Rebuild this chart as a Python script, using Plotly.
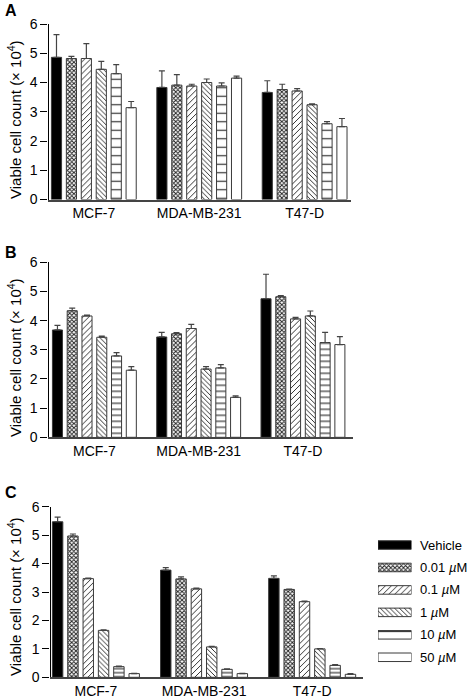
import plotly.graph_objects as go

# ---------------- data ----------------
CELL_LINES = ["MCF-7", "MDA-MB-231", "T47-D"]
TREATMENTS = ["Vehicle", "0.01 <i>µ</i>M", "0.1 <i>µ</i>M", "1 <i>µ</i>M", "10 <i>µ</i>M", "50 <i>µ</i>M"]
Y_TICKS = [0, 1, 2, 3, 4, 5, 6]
Y_TITLE = "Viable cell count (× 10<sup>4</sup>)"
PANEL_LABELS = ["A", "B", "C"]

# rows = treatments, cols = cell lines
A_MEAN = [[4.86, 3.83, 3.66],
          [4.82, 3.91, 3.76],
          [4.82, 3.88, 3.71],
          [4.45, 4.00, 3.24],
          [4.30, 3.88, 2.59],
          [3.14, 4.15, 2.49]]
A_ERR = [[0.78, 0.57, 0.40],
         [0.07, 0.36, 0.18],
         [0.51, 0.06, 0.08],
         [0.27, 0.12, 0.03],
         [0.31, 0.11, 0.07],
         [0.21, 0.07, 0.28]]

B_MEAN = [[3.68, 3.44, 4.75],
          [4.34, 3.55, 4.82],
          [4.16, 3.73, 4.06],
          [3.43, 2.34, 4.16],
          [2.79, 2.38, 3.25],
          [2.30, 1.37, 3.18]]
B_ERR = [[0.16, 0.16, 0.84],
         [0.09, 0.04, 0.04],
         [0.03, 0.14, 0.05],
         [0.04, 0.08, 0.17],
         [0.11, 0.11, 0.35],
         [0.12, 0.05, 0.27]]

C_MEAN = [[5.47, 3.77, 3.48],
          [4.97, 3.46, 3.09],
          [3.47, 3.11, 2.66],
          [1.65, 1.07, 1.00],
          [0.375, 0.28, 0.42],
          [0.13, 0.13, 0.105]]
C_ERR = [[0.16, 0.09, 0.09],
         [0.07, 0.07, 0.01],
         [0.02, 0.03, 0.02],
         [0.02, 0.02, 0.01],
         [0.015, 0.02, 0.03],
         [0.01, 0.01, 0.025]]

# ---------------- styles ----------------
W, H = 468, 700
FONT = "Liberation Sans, Arial, Helvetica, sans-serif"
OUTLINE = "#3a3a3a"

def pattern_for(i, hsize):
    if i == 0:
        return dict(color="black", pattern=dict(shape=""))
    if i == 1:
        return dict(color="white", pattern=dict(shape="x", size=3.0, solidity=0.55, fgcolor="#222"))
    if i == 2:
        return dict(color="white", pattern=dict(shape="/", size=4.2, solidity=0.22, fgcolor="#222"))
    if i == 3:
        return dict(color="white", pattern=dict(shape="\\", size=3.4, solidity=0.27, fgcolor="#222"))
    if i == 4:
        return dict(color="white", pattern=dict(shape="-", size=hsize, solidity=1.2 / hsize, fgcolor="#333"))
    return dict(color="white", pattern=dict(shape=""))

def px_x(p):
    return p / W

def px_y(p):
    return 1 - p / H

fig = go.Figure()

panels = [
    # mean, err, axis suffix, y-top px, y-bottom px, x-left px, x-right px, x range, hline spacing, title centre px
    (A_MEAN, A_ERR, "", 24.0, 199.5, 48.5, 351, [-0.43, 2.44], 8.5, 120),
    (B_MEAN, B_ERR, "2", 262.3, 437.3, 48.5, 353, [-0.44, 2.48], 6.0, 358),
    (C_MEAN, C_ERR, "3", 506.7, 677.3, 50.5, 363, [-0.42, 2.47], 4.0, 597),
]

annotations = []
for mean, err, sfx, ytop, ybot, xl, xr, xrange_, hsp, tc in panels:
    for i, name in enumerate(TREATMENTS):
        m = pattern_for(i, hsp)
        fig.add_trace(go.Bar(
            x=CELL_LINES, y=mean[i], name=name,
            xaxis="x" + sfx, yaxis="y" + sfx,
            marker=dict(color=m["color"], pattern=m["pattern"],
                        line=dict(color=OUTLINE, width=1)),
            error_y=dict(type="data", symmetric=False, array=err[i],
                         arrayminus=[0] * len(err[i]), color="#444",
                         thickness=1.2, width=3),
            showlegend=False,
        ))
    xa = dict(domain=[px_x(xl), px_x(xr)], range=xrange_, type="category",
              showline=True, linecolor="#444", linewidth=1.6, ticks="",
              showgrid=False, zeroline=False, automargin=False,
              tickfont=dict(family=FONT, size=14, color="black"),
              anchor="y" + sfx)
    ya = dict(domain=[px_y(ybot), px_y(ytop)], range=[0, 6], tickvals=Y_TICKS,
              showline=True, linecolor="black", linewidth=1.3,
              ticks="outside", ticklen=7, tickwidth=1, tickcolor="black",
              showgrid=False, zeroline=False, automargin=False,
              tickfont=dict(family=FONT, size=14, color="black"),
              anchor="x" + sfx)
    fig.layout["xaxis" + sfx] = xa
    fig.layout["yaxis" + sfx] = ya
    annotations.append(dict(text=Y_TITLE, x=px_x(14), y=px_y(tc), xref="paper", yref="paper",
                            xanchor="center", yanchor="middle", textangle=-90, showarrow=False,
                            font=dict(family=FONT, size=15, color="black")))

# legend drawn as a small horizontal-bar subplot
LEG_VALUE = [1] * len(TREATMENTS)
for i, name in enumerate(TREATMENTS):
    m = pattern_for(i, 8.5)
    fig.add_trace(go.Bar(
        x=[LEG_VALUE[i]], y=[name], orientation="h",
        xaxis="x4", yaxis="y4", width=0.38, offset=-0.19,
        marker=dict(color=m["color"], pattern=m["pattern"],
                    line=dict(color=OUTLINE, width=1)),
        showlegend=False, hoverinfo="skip",
    ))
fig.layout["xaxis4"] = dict(domain=[px_x(378), px_x(411.5)], range=[0, 1],
                            visible=False, anchor="y4", automargin=False)
fig.layout["yaxis4"] = dict(domain=[px_y(668.5), px_y(533.8)], type="category",
                            categoryorder="array", categoryarray=TREATMENTS,
                            autorange="reversed", anchor="x4", visible=False,
                            automargin=False)

for lab, yc in zip(PANEL_LABELS, [10.8, 252.5, 492.5]):
    annotations.append(dict(text="<b>%s</b>" % lab, x=px_x(3), y=px_y(yc),
                            xref="paper", yref="paper", xanchor="left", yanchor="middle",
                            showarrow=False, font=dict(family=FONT, size=16, color="black")))
for name in TREATMENTS:
    annotations.append(dict(text=name, x=1, y=name, xref="x4", yref="y4",
                            xanchor="left", yanchor="middle", xshift=6,
                            showarrow=False, font=dict(family=FONT, size=13, color="black")))

fig.update_layout(
    template="none",
    width=W, height=H, margin=dict(l=0, r=0, t=0, b=0, autoexpand=False),
    paper_bgcolor="white", plot_bgcolor="white",
    barmode="group", bargap=0.15, bargroupgap=0.32,
    annotations=annotations, showlegend=False,
    font=dict(family=FONT, color="black"),
)

fig.write_html("out.html", config={"displayModeBar": False},
               post_script="document.body.style.margin='0';")
